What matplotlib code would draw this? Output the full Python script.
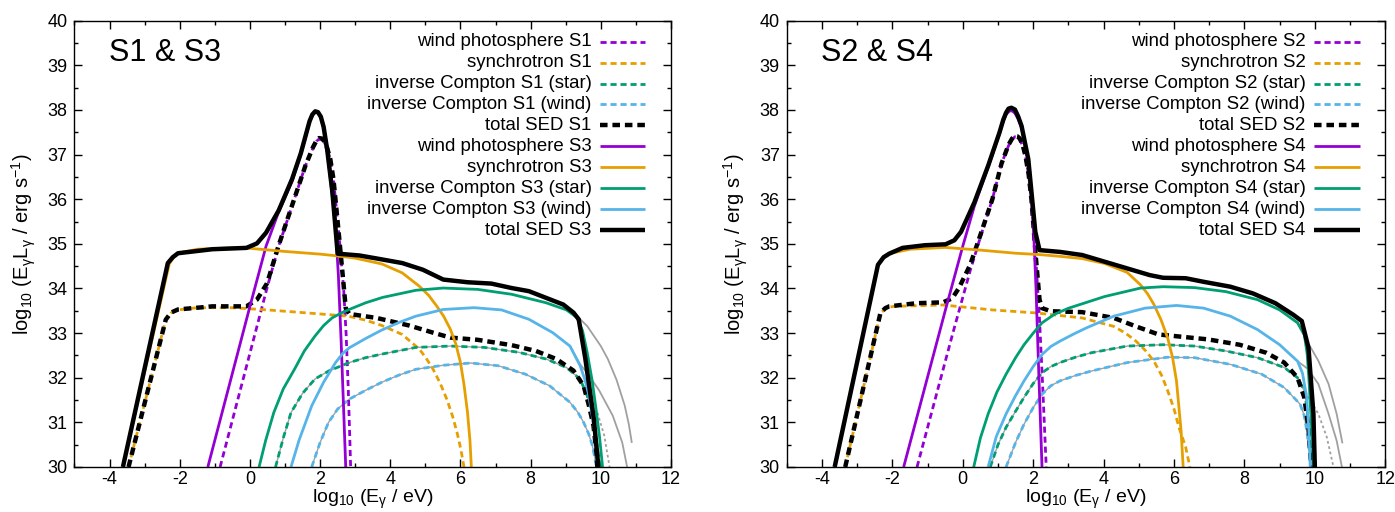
#!/usr/bin/python
"""Broadband SED of the scenarios S1-S4 (two panels, gnuplot-like look)."""

import numpy as np
import matplotlib
matplotlib.use('Agg')
import matplotlib.pyplot as plt
from matplotlib.ticker import MultipleLocator
from matplotlib.lines import Line2D

plt.rcParams['font.family'] = ['Liberation Sans', 'DejaVu Sans']
plt.rcParams['mathtext.fontset'] = 'custom'
plt.rcParams['mathtext.rm'] = 'Liberation Sans'
plt.rcParams['mathtext.it'] = 'Liberation Sans:italic'
plt.rcParams['axes.unicode_minus'] = False

# data: [log10 E/eV, log10 E L_E]
# -----------------------------------------------------------------------------
# left panel, S1 (dashed)
wind_s1 = np.array([[-0.85, 30.0], [0.0, 32.55], [0.5, 34.05], [0.82, 34.95], [1.2, 35.85],
                    [1.58, 36.75], [1.8, 37.15], [1.9, 37.3], [1.97, 37.35], [2.05, 37.35],
                    [2.12, 37.28], [2.2, 37.13], [2.29, 36.9], [2.38, 36.45], [2.45, 35.9],
                    [2.56, 35.0], [2.67, 34.0], [2.74, 33.0], [2.8, 31.8], [2.84, 30.8],
                    [2.87, 30.0]])
sync_s1 = np.array([[-3.46, 30.0], [-2.4, 33.3], [-2.25, 33.45], [-2.05, 33.52], [-1.5, 33.57],
                    [-0.5, 33.57], [0.5, 33.52], [1.5, 33.46], [2.8, 33.38], [3.3, 33.29],
                    [3.76, 33.17], [4.34, 32.97], [4.83, 32.64], [5.02, 32.44], [5.22, 32.19],
                    [5.42, 31.88], [5.61, 31.52], [5.77, 31.15], [5.9, 30.78], [6.01, 30.4],
                    [6.1, 30.0]])
ic_star_s1 = np.array([[0.73, 30.0], [0.95, 30.65], [1.17, 31.22], [1.5, 31.65], [1.85, 31.97],
                       [2.24, 32.15], [2.83, 32.34], [3.3, 32.45], [3.76, 32.53], [4.73, 32.68],
                       [5.71, 32.71], [6.68, 32.68], [7.66, 32.57], [8.44, 32.42], [9.02, 32.23],
                       [9.41, 31.97], [9.61, 31.6], [9.72, 31.3], [9.8, 30.93], [9.9, 30.45],
                       [9.98, 30.0]])
ic_wind_s1 = np.array([[1.76, 30.0], [2.0, 30.55], [2.24, 31.0], [2.5, 31.3], [2.83, 31.52],
                       [3.3, 31.72], [3.76, 31.9], [4.25, 32.06], [4.73, 32.19], [5.51, 32.28],
                       [6.29, 32.33], [7.07, 32.27], [7.85, 32.08], [8.54, 31.82], [9.12, 31.45],
                       [9.35, 31.22], [9.51, 31.0], [9.65, 30.75], [9.76, 30.48], [9.88, 30.0]])
total_s1 = np.array([[-3.46, 30.0], [-2.4, 33.3], [-2.25, 33.46], [-2.05, 33.53], [-1.07, 33.6],
                     [-0.1, 33.6], [0.2, 33.75], [0.49, 34.12], [0.82, 34.97], [1.2, 35.86],
                     [1.58, 36.75], [1.8, 37.17], [1.9, 37.32], [1.97, 37.37], [2.05, 37.36],
                     [2.12, 37.3], [2.2, 37.15], [2.29, 36.9], [2.38, 36.45], [2.45, 35.9],
                     [2.56, 35.0], [2.67, 34.08], [2.73, 33.56], [2.83, 33.43], [3.61, 33.34],
                     [4.54, 33.17], [5.22, 33.01], [5.71, 32.9], [6.49, 32.85], [7.46, 32.73],
                     [8.15, 32.6], [8.73, 32.42], [9.22, 32.16], [9.51, 31.82], [9.66, 31.38],
                     [9.79, 30.93], [9.88, 30.3], [9.9, 30.0]])
# left panel, S3 (solid)
wind_s3 = np.array([[-1.2, 30.0], [0.0, 33.6], [0.46, 34.95], [0.82, 35.72], [1.2, 36.4],
                    [1.45, 37.0], [1.62, 37.5], [1.7, 37.73], [1.78, 37.88], [1.86, 37.95],
                    [1.94, 37.93], [2.02, 37.83], [2.1, 37.6], [2.2, 37.1], [2.33, 36.2],
                    [2.43, 35.5], [2.52, 34.3], [2.6, 32.8], [2.67, 31.3], [2.73, 30.0]])
sync_s3 = np.array([[-3.62, 30.0], [-2.3, 34.55], [-2.15, 34.72], [-2.0, 34.8], [-1.5, 34.88],
                    [-0.5, 34.91], [0.0, 34.9], [1.0, 34.83], [2.0, 34.77], [2.5, 34.73],
                    [3.0, 34.68], [3.76, 34.55], [4.34, 34.35], [4.83, 34.05], [5.1, 33.84],
                    [5.32, 33.61], [5.52, 33.38], [5.71, 33.09], [5.87, 32.75], [6.0, 32.34],
                    [6.1, 31.85], [6.2, 31.23], [6.27, 30.6], [6.31, 30.0]])
ic_star_s3 = np.array([[0.26, 30.0], [0.45, 30.6], [0.68, 31.22], [0.95, 31.75], [1.27, 32.19],
                       [1.55, 32.6], [1.85, 32.93], [2.1, 33.17], [2.34, 33.34], [2.6, 33.45],
                       [2.83, 33.53], [3.3, 33.68], [3.78, 33.8], [4.73, 33.96], [5.51, 34.01],
                       [6.49, 33.98], [7.46, 33.87], [8.44, 33.68], [9.02, 33.52], [9.32, 33.35],
                       [9.48, 33.05], [9.61, 32.57], [9.75, 31.95], [9.85, 31.38], [9.96, 30.7],
                       [10.05, 30.0]])
ic_wind_s3 = np.array([[1.17, 30.0], [1.4, 30.6], [1.76, 31.37], [2.1, 31.9], [2.44, 32.34],
                       [2.65, 32.55], [2.83, 32.67], [3.3, 32.88], [3.76, 33.07], [4.25, 33.24],
                       [4.73, 33.38], [5.51, 33.53], [6.39, 33.57], [7.17, 33.52], [7.95, 33.31],
                       [8.63, 33.01], [9.12, 32.71], [9.41, 32.27], [9.55, 31.95], [9.66, 31.6],
                       [9.8, 30.93], [9.92, 30.0]])
total_s3 = np.array([[-3.62, 30.0], [-2.34, 34.57], [-2.2, 34.7], [-2.05, 34.79], [-1.07, 34.88],
                     [-0.1, 34.91], [0.2, 35.01], [0.46, 35.25], [0.82, 35.75], [1.2, 36.45],
                     [1.45, 37.03], [1.62, 37.52], [1.7, 37.75], [1.78, 37.9], [1.86, 37.97],
                     [1.94, 37.95], [2.02, 37.85], [2.1, 37.62], [2.2, 37.12], [2.35, 36.16],
                     [2.5, 34.78], [3.12, 34.74], [3.63, 34.67], [4.34, 34.57], [4.93, 34.42],
                     [5.51, 34.2], [6.2, 34.14], [6.88, 34.11], [7.46, 34.01], [7.95, 33.94],
                     [8.44, 33.79], [8.93, 33.64], [9.22, 33.46], [9.37, 33.31], [9.56, 32.42],
                     [9.8, 31.08], [9.93, 30.0]])
# grey extensions, left panel
grey_star_s3 = np.array([[9.02, 33.52], [9.32, 33.38], [9.61, 33.16], [9.8, 32.94], [10.0, 32.71],
                         [10.2, 32.42], [10.45, 31.95], [10.68, 31.38], [10.8, 30.95], [10.88, 30.56]])
grey_wind_s3 = np.array([[9.12, 32.71], [9.41, 32.3], [9.6, 32.12], [9.95, 31.72], [10.34, 31.15],
                         [10.61, 30.55], [10.75, 30.0]])
grey_star_s1 = np.array([[9.41, 31.97], [9.61, 31.65], [9.9, 31.23], [10.1, 30.7], [10.25, 30.0]])

# right panel, S2 (dashed)
wind_s2 = np.array([[-1.3, 30.0], [-0.3, 32.95], [0.21, 34.4], [0.5, 35.15], [0.84, 36.0],
                    [1.1, 36.8], [1.3, 37.2], [1.4, 37.34], [1.48, 37.4], [1.55, 37.39],
                    [1.62, 37.33], [1.7, 37.2], [1.78, 36.95], [1.87, 36.55], [1.95, 36.0],
                    [2.08, 34.6], [2.18, 33.3], [2.27, 31.8], [2.37, 30.0]])
sync_s2 = np.array([[-3.34, 30.0], [-2.34, 33.45], [-2.15, 33.57], [-1.96, 33.6], [-0.56, 33.63],
                    [0.84, 33.52], [2.12, 33.45], [3.39, 33.34], [4.29, 33.15], [4.62, 33.0],
                    [4.92, 32.82], [5.2, 32.6], [5.43, 32.37], [5.65, 32.05], [5.82, 31.71],
                    [6.0, 31.3], [6.14, 30.89], [6.33, 30.45], [6.45, 30.0]])
ic_star_s2 = np.array([[0.78, 30.0], [1.0, 30.5], [1.23, 30.89], [1.5, 31.25], [1.74, 31.56],
                       [2.0, 31.87], [2.25, 32.11], [2.5, 32.25], [2.76, 32.34], [3.2, 32.46],
                       [3.65, 32.56], [4.67, 32.71], [5.69, 32.74], [6.58, 32.71], [7.47, 32.6],
                       [8.37, 32.45], [9.13, 32.23], [9.51, 32.0], [9.7, 31.71], [9.78, 31.3],
                       [9.83, 30.82], [9.9, 30.4], [9.96, 30.0]])
ic_wind_s2 = np.array([[1.23, 30.0], [1.5, 30.55], [1.74, 30.96], [2.0, 31.33], [2.25, 31.63],
                       [2.5, 31.82], [2.76, 31.93], [3.2, 32.05], [3.65, 32.15], [4.67, 32.34],
                       [5.82, 32.46], [6.58, 32.45], [7.6, 32.3], [8.49, 32.08], [9.13, 31.78],
                       [9.58, 31.41], [9.7, 31.15], [9.77, 30.82], [9.9, 30.0]])
total_s2 = np.array([[-3.34, 30.0], [-2.34, 33.45], [-2.2, 33.56], [-2.09, 33.6], [-1.32, 33.67],
                     [-0.56, 33.69], [-0.3, 33.78], [-0.11, 34.01], [0.21, 34.53], [0.5, 35.2],
                     [0.84, 36.0], [1.1, 36.8], [1.3, 37.22], [1.4, 37.36], [1.48, 37.42],
                     [1.55, 37.41], [1.62, 37.36], [1.7, 37.22], [1.78, 36.97], [1.87, 36.56],
                     [1.95, 36.0], [2.08, 34.65], [2.18, 33.75], [2.25, 33.56], [2.5, 33.49],
                     [3.39, 33.47], [4.29, 33.34], [4.92, 33.15], [5.56, 32.97], [6.07, 32.93],
                     [6.96, 32.86], [7.86, 32.74], [8.62, 32.56], [9.13, 32.34], [9.51, 32.0],
                     [9.7, 31.56], [9.83, 30.82], [9.9, 30.0]])
# right panel, S4 (solid)
wind_s4 = np.array([[-1.68, 30.0], [-0.5, 33.5], [0.0, 34.95], [0.33, 35.85], [0.72, 36.72],
                    [1.04, 37.47], [1.15, 37.75], [1.23, 37.9], [1.33, 37.98], [1.4, 37.98],
                    [1.48, 37.93], [1.57, 37.8], [1.67, 37.6], [1.86, 36.85], [2.0, 35.5],
                    [2.08, 34.0], [2.15, 32.3], [2.25, 30.0]])
sync_s4 = np.array([[-3.64, 30.0], [-2.41, 34.53], [-2.25, 34.7], [-2.09, 34.78], [-1.5, 34.88],
                    [-0.5, 34.92], [0.5, 34.86], [1.5, 34.79], [2.18, 34.76], [2.76, 34.72],
                    [3.39, 34.67], [4.03, 34.56], [4.67, 34.36], [5.05, 34.08], [5.25, 33.88],
                    [5.43, 33.64], [5.63, 33.3], [5.82, 32.89], [5.96, 32.45], [6.07, 31.93],
                    [6.2, 30.82], [6.26, 30.0]])
ic_star_s4 = np.array([[0.31, 30.0], [0.5, 30.65], [0.72, 31.19], [0.97, 31.68], [1.23, 32.08],
                       [1.5, 32.45], [1.74, 32.74], [2.0, 33.0], [2.25, 33.23], [2.6, 33.42],
                       [3.01, 33.56], [4.03, 33.82], [5.05, 34.01], [5.69, 34.04], [6.58, 34.02],
                       [7.47, 33.93], [8.37, 33.75], [9.0, 33.52], [9.51, 33.23], [9.7, 32.97],
                       [9.78, 32.55], [9.83, 32.0], [9.9, 31.0], [9.97, 30.0]])
ic_wind_s4 = np.array([[0.72, 30.0], [0.95, 30.68], [1.23, 31.19], [1.5, 31.6], [1.74, 31.93],
                       [2.0, 32.25], [2.25, 32.52], [2.5, 32.7], [2.76, 32.82], [3.15, 32.98],
                       [3.52, 33.12], [4.29, 33.38], [5.18, 33.56], [6.07, 33.62], [6.84, 33.56],
                       [7.6, 33.38], [8.37, 33.08], [9.0, 32.74], [9.51, 32.37], [9.65, 32.1],
                       [9.77, 31.56], [9.83, 30.82], [9.87, 30.0]])
total_s4 = np.array([[-3.64, 30.0], [-2.41, 34.53], [-2.25, 34.7], [-2.09, 34.78], [-1.71, 34.91],
                     [-1.07, 34.97], [-0.49, 34.99], [-0.24, 35.08], [-0.05, 35.27], [0.33, 35.93],
                     [0.72, 36.75], [1.04, 37.49], [1.15, 37.78], [1.23, 37.94], [1.3, 38.03],
                     [1.38, 38.05], [1.48, 38.01], [1.57, 37.86], [1.67, 37.64], [1.86, 36.9],
                     [2.06, 35.27], [2.18, 34.86], [2.76, 34.82], [3.39, 34.75], [4.03, 34.6],
                     [4.67, 34.45], [5.31, 34.3], [5.69, 34.24], [6.33, 34.23], [6.84, 34.15],
                     [7.6, 34.04], [8.24, 33.89], [8.88, 33.67], [9.39, 33.41], [9.63, 33.27],
                     [9.82, 32.67], [9.96, 31.19], [10.0, 30.0]])
# grey extensions, right panel
grey_star_s4 = np.array([[9.51, 33.23], [9.72, 32.9], [10.1, 32.38], [10.39, 31.86], [10.62, 31.19],
                         [10.78, 30.55]])
grey_wind_s4 = np.array([[9.51, 32.37], [9.8, 32.2], [10.1, 31.86], [10.39, 31.19], [10.62, 30.59],
                         [10.77, 30.0]])
grey_star_s2 = np.array([[9.51, 32.0], [9.82, 31.56], [10.1, 31.19], [10.34, 30.67], [10.53, 30.0]])

labels_left = ['wind photosphere S1', 'synchrotron S1', 'inverse Compton S1 (star)',
               'inverse Compton S1 (wind)', 'total SED S1', 'wind photosphere S3',
               'synchrotron S3', 'inverse Compton S3 (star)', 'inverse Compton S3 (wind)',
               'total SED S3']
labels_right = ['wind photosphere S2', 'synchrotron S2', 'inverse Compton S2 (star)',
                'inverse Compton S2 (wind)', 'total SED S2', 'wind photosphere S4',
                'synchrotron S4', 'inverse Compton S4 (star)', 'inverse Compton S4 (wind)',
                'total SED S4']

# styles
# -----------------------------------------------------------------------------
PURPLE = '#9400d3'
ORANGE = '#e69f00'
GREEN = '#009e73'
BLUE = '#56b4e9'
GREY = '#a0a0a0'
colors = [PURPLE, ORANGE, GREEN, BLUE, 'black']


def style(i, dashed):
    black = (i == 4)
    lw = 3.2 if black else 2.0
    st = dict(color=colors[i], lw=lw, solid_capstyle='butt', dash_capstyle='butt',
              solid_joinstyle='round')
    if dashed:
        st['dashes'] = (1.7, 1.1) if black else (2.2, 1.4)
    return st


def draw_panel(ax, dashed_set, solid_set, greys, grey_dotted, labels, title):
    # grey unabsorbed curves first
    for g in greys:
        ax.plot(g[:, 0], g[:, 1], color=GREY, lw=1.3)
    ax.plot(grey_dotted[:, 0], grey_dotted[:, 1], color=GREY, lw=1.3, dashes=(1.5, 1.5))
    # thin grey under the dashed IC curves
    for c in dashed_set[2:4]:
        ax.plot(c[:, 0], c[:, 1], color=GREY, lw=1.0)
    for i, c in enumerate(dashed_set):
        ax.plot(c[:, 0], c[:, 1], **style(i, True))
    for i, c in enumerate(solid_set):
        ax.plot(c[:, 0], c[:, 1], **style(i, False))

    ax.set_xlim(-5, 12)
    ax.set_ylim(30, 40)
    ax.xaxis.set_major_locator(MultipleLocator(2))
    ax.xaxis.set_minor_locator(MultipleLocator(1))
    ax.yaxis.set_major_locator(MultipleLocator(1))
    ax.yaxis.set_minor_locator(MultipleLocator(0.5))
    ax.tick_params(which='both', direction='in', top=True, right=True, width=1.0)
    ax.tick_params(which='major', length=6, labelsize=13)
    ax.tick_params(axis='y', which='major', pad=5)
    ax.tick_params(axis='x', which='major', pad=3)
    ax.tick_params(which='minor', length=3)
    for sp in ax.spines.values():
        sp.set_linewidth(1.0)
    ax.set_xlabel(r'log$_{10}$ (E$_{\mathrm{\gamma}}$ / eV)', fontsize=14, labelpad=0)
    ax.set_ylabel(r'log$_{10}$ (E$_{\mathrm{\gamma}}$L$_{\mathrm{\gamma}}$ / erg s$^{-1}$)',
                  fontsize=14.5, labelpad=7)

    # gnuplot-like key: right-justified text with sample to the right
    y0 = 0.953
    dy = 0.0469
    for k, lab in enumerate(labels):
        y = y0 - k * dy
        ax.text(0.867, y, lab, transform=ax.transAxes, ha='right', va='center', fontsize=13.4)
        i = k % 5
        ax.add_line(Line2D([0.881, 0.957], [y, y], transform=ax.transAxes,
                           **style(i, k < 5)))

    ax.text(0.058, 0.927, title, transform=ax.transAxes, ha='left', va='center', fontsize=22)


# main
# -----------------------------------------------------------------------------
def main():
    fig = plt.figure(figsize=(13.95, 5.12), dpi=100)
    ax1 = fig.add_axes([0.0534, 0.0879, 0.4276, 0.8716])
    ax2 = fig.add_axes([0.5640, 0.0879, 0.4290, 0.8716])

    draw_panel(ax1, [wind_s1, sync_s1, ic_star_s1, ic_wind_s1, total_s1],
               [wind_s3, sync_s3, ic_star_s3, ic_wind_s3, total_s3],
               [grey_star_s3, grey_wind_s3], grey_star_s1, labels_left, 'S1 & S3')
    draw_panel(ax2, [wind_s2, sync_s2, ic_star_s2, ic_wind_s2, total_s2],
               [wind_s4, sync_s4, ic_star_s4, ic_wind_s4, total_s4],
               [grey_star_s4, grey_wind_s4], grey_star_s2, labels_right, 'S2 & S4')

    fig.savefig('out.png', dpi=100)


if __name__ == '__main__':
    main()
